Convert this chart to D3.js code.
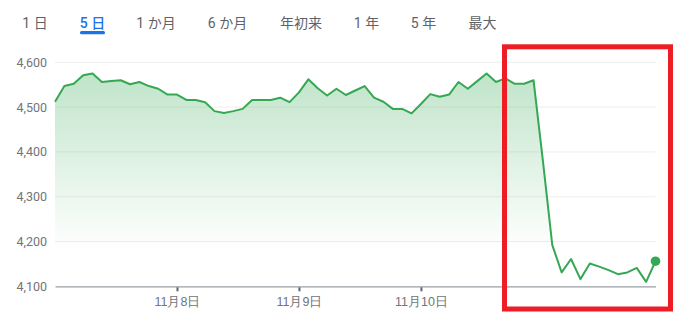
<!DOCTYPE html>
<html><head><meta charset="utf-8">
<script src="https://cdn.jsdelivr.net/npm/d3@7"></script>
<style>
body{margin:0;background:#fff;}
svg{display:block;font-family:Roboto,"Noto Sans CJK JP",sans-serif;}
</style></head>
<body><svg id="c" width="678" height="320"></svg>
<script>
const tabs = ["1 日","5 日","1 か月","6 か月","年初来","1 年","5 年","最大"];
const activeTab = "5 日";
const prices = [4512,4547,4552,4571,4575,4556,4558,4560,4551,4556,4547,4541,4528,
  4528,4516,4516,4511,4491,4487,4491,4496,4516,4516,4516,4521,4511,
  4533,4562,4542,4526,4541,4527,4537,4547,4521,4512,4496,4496,4486,
  4507,4529,4523,4528,4556,4541,4558,4575,4556,4564,4552,4552,4560,
  4380,4192,4131,4161,4116,4151,4144,4136,4127,4131,4141,4110,4156];
const dayLabels = ["11月8日","11月9日","11月10日"];
const dayStartIndex = [13,26,39];
const yTicks = [4100,4200,4300,4400,4500,4600];

const svg = d3.select("#c");

// tabs
const tabCenters = {"1 日":35,"5 日":92.5,"1 か月":156,"6 か月":227.5,"年初来":301,"1 年":366.5,"5 年":423.5,"最大":482.5};
const tg = svg.append("g");
tabs.forEach(t=>{
  const cx = tabCenters[t];
  tg.append("text").attr("x",cx).attr("y",27.5).attr("text-anchor","middle")
    .attr("font-size",14).attr("fill", t===activeTab?"#1a73e8":"#5f6368")
    .attr("font-weight", t===activeTab?500:400).text(t);
  if(t===activeTab){
    tg.append("rect").attr("x",cx-12.5).attr("y",31).attr("width",25).attr("height",3.2)
      .attr("rx",1.5).attr("fill","#1a73e8");
  }
});

const x = d3.scaleLinear().domain([0,prices.length-1]).range([55,655.5]);
const y = d3.scaleLinear().domain([4100,4600]).range([286.3,62.3]);

// gradient
const defs = svg.append("defs");
const grad = defs.append("linearGradient").attr("id","g1").attr("gradientUnits","userSpaceOnUse")
  .attr("x1",0).attr("x2",0).attr("y1",y(4600)).attr("y2",y(4180));
grad.append("stop").attr("offset",0).attr("stop-color","#34a853").attr("stop-opacity",0.33);
grad.append("stop").attr("offset",1).attr("stop-color","#34a853").attr("stop-opacity",0);

// grid
svg.append("g").selectAll("line").data(yTicks.filter(v=>v>4100)).join("line")
  .attr("x1",55).attr("x2",655.5).attr("y1",d=>y(d)).attr("y2",d=>y(d))
  .attr("stroke","#eeeeee").attr("stroke-width",1);

// y labels
const ya = svg.append("g").attr("transform","translate(47,0)")
  .call(d3.axisLeft(y).tickValues(yTicks).tickFormat(d3.format(",")).tickSize(0).tickPadding(0));
ya.select(".domain").remove();
ya.selectAll("text").attr("font-size",12.5).attr("fill","#70757a").attr("font-family","Roboto,sans-serif");

// area
svg.append("path").datum(prices)
  .attr("d", d3.area().x((d,i)=>x(i)).y0(y(4100)).y1(d=>y(d)))
  .attr("fill","url(#g1)");

// baseline axis
const xa = svg.append("g").attr("transform",`translate(0,${y(4100)})`)
  .call(d3.axisBottom(x).tickValues(dayStartIndex).tickFormat((d,i)=>dayLabels[i]).tickSize(5).tickSizeOuter(0).tickPadding(6));
xa.select(".domain").attr("stroke","#9aa0a6").attr("stroke-width",1.2);
xa.selectAll(".tick line").attr("stroke","#5f6368").attr("stroke-width",2).attr("y1",1);
xa.selectAll("text").attr("font-size",12.5).attr("fill","#70757a");

// line
svg.append("path").datum(prices)
  .attr("d", d3.line().x((d,i)=>x(i)).y(d=>y(d)))
  .attr("fill","none").attr("stroke","#34a853").attr("stroke-width",2).attr("stroke-linejoin","round");

const li = prices.length-1;
svg.append("circle").attr("cx",x(li)).attr("cy",y(prices[li])).attr("r",4.8).attr("fill","#34a853");

// annotation box
svg.append("rect").attr("x",504.5).attr("y",46.8).attr("width",166).attr("height",262.2)
  .attr("fill","none").attr("stroke","#ee1c25").attr("stroke-width",5);
</script></body></html>
